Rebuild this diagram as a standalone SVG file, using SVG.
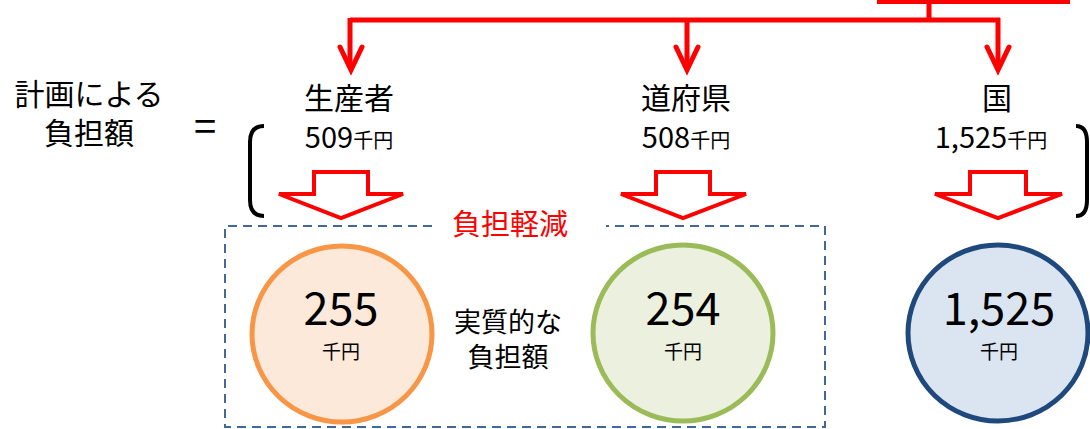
<svg xmlns="http://www.w3.org/2000/svg" width="1090" height="429" viewBox="0 0 1090 429">
<defs>
<style>
text{font-family:"Noto Sans CJK JP","Noto Sans",sans-serif;fill:#000;text-anchor:middle}
.conn{fill:none;stroke:#ff0000;stroke-width:5}
.head{fill:none;stroke:#ff0000;stroke-width:5;stroke-linecap:round;stroke-linejoin:miter}
.blk{fill:#fff;stroke:#ff0000;stroke-width:4;stroke-linejoin:miter}
.brk{fill:none;stroke:#000;stroke-width:4}
.dash{fill:none;stroke:#44679a;stroke-width:2;stroke-dasharray:9 6}
.lbl{font-size:30px}
.amt{font-size:29px}
.unit{font-size:20px}
.big{font-size:45px}
.small{font-size:19px}
</style>
</defs>
<rect width="1090" height="429" fill="#fff"/>
<g id="connectors">
<path class="conn" d="M877 1.5H1070M929 0V20M350 20H1000M350 18V66M687 18V66M998 18V66"/>
<path class="head" d="M340 47L351 70L362 47M676 47L687 70L698 47M987 47L998 70L1009 47"/>
</g>
<g id="left-label">
<text class="lbl" x="89" y="105">計画による</text>
<text class="lbl" x="89" y="144">負担額</text>
<text x="205" y="141" style="font-size:40px">=</text>
<path class="brk" d="M264 126Q250 126 250 142V200Q250 216 264 216"/>
<path class="brk" d="M1076 126Q1087 126 1087 142V200Q1087 216 1076 216"/>
</g>
<g id="producer">
<text class="lbl" x="349" y="109">生産者</text>
<text x="349" y="148"><tspan class="amt">509</tspan><tspan class="unit">千円</tspan></text>
<polygon class="blk" points="314,172 368,172 368,194 403,194 341,218 279,194 314,194"/>
</g>
<g id="prefecture">
<text class="lbl" x="686" y="109">道府県</text>
<text x="686" y="148"><tspan class="amt">508</tspan><tspan class="unit">千円</tspan></text>
<polygon class="blk" points="656,172 710,172 710,194 746,194 683,218 621,194 656,194"/>
</g>
<g id="country">
<text class="lbl" x="997" y="109">国</text>
<text x="991" y="148"><tspan class="amt">1,525</tspan><tspan class="unit">千円</tspan></text>
<polygon class="blk" points="970,172 1026,172 1026,194 1062,194 998,218 935,194 970,194"/>
</g>
<g id="reduction-box">
<path class="dash" d="M432 226H225V427H825V226H606"/>
<text x="510" y="235" style="font-size:29px;fill:#ff0000">負担軽減</text>
<text x="508" y="332" style="font-size:27px">実質的な</text>
<text x="508" y="367" style="font-size:27px">負担額</text>
</g>
<g id="producer-actual">
<ellipse cx="342" cy="334" rx="90" ry="88" fill="#fde9d9" stroke="#f79646" stroke-width="5"/>
<text class="big" x="341" y="325">255</text>
<text class="small" x="341" y="359">千円</text>
</g>
<g id="prefecture-actual">
<ellipse cx="683" cy="333" rx="90" ry="88" fill="#ebf1de" stroke="#9bbb59" stroke-width="5"/>
<text class="big" x="683" y="325">254</text>
<text class="small" x="683" y="359">千円</text>
</g>
<g id="country-actual">
<ellipse cx="998" cy="333" rx="90" ry="88" fill="#dbe5f1" stroke="#1f497d" stroke-width="5"/>
<text class="big" x="999" y="325">1,525</text>
<text class="small" x="999" y="359">千円</text>
</g>
</svg>
